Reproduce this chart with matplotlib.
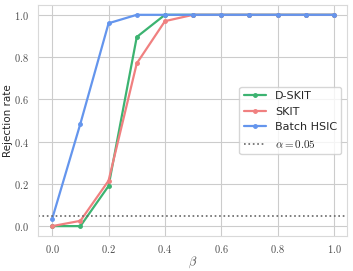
import matplotlib
matplotlib.use("Agg")
import matplotlib.pyplot as plt
import seaborn as sns
import numpy as np

beta = [0.0, 0.1, 0.2, 0.3, 0.4, 0.5, 0.6, 0.7, 0.8, 0.9, 1.0]
dskit = [0.0, 0.0, 0.19, 0.895, 1.0, 1.0, 1.0, 1.0, 1.0, 1.0, 1.0]
skit = [0.0, 0.025, 0.215, 0.77, 0.97, 1.0, 1.0, 1.0, 1.0, 1.0, 1.0]
hsic = [0.035, 0.485, 0.96, 1.0, 1.0, 1.0, 1.0, 1.0, 1.0, 1.0, 1.0]
alpha = 0.05

sns.set_style("whitegrid")
plt.rcParams['font.family'] = ['DejaVu Sans']
plt.rcParams['mathtext.fontset'] = 'cm'
plt.rcParams['axes.formatter.use_mathtext'] = True

fig = plt.figure(figsize=(3.53, 2.71), dpi=100)
ax = fig.add_subplot(111)

ax.plot(beta, dskit, color='mediumseagreen', marker='o', ms=2.5, lw=1.6, label='D-SKIT')
ax.plot(beta, skit, color='lightcoral', marker='o', ms=2.5, lw=1.6, label='SKIT')
ax.plot(beta, hsic, color='cornflowerblue', marker='o', ms=2.5, lw=1.6, label='Batch HSIC')
ax.axhline(alpha, color='0.4', linestyle=':', lw=1.2, label=r'$\alpha = 0.05$')

ax.set_xticks(np.arange(0, 1.01, 0.2))
ax.set_yticks(np.arange(0, 1.01, 0.2))
ax.xaxis.set_major_formatter(matplotlib.ticker.FuncFormatter(lambda v, p: r'$%.1f$' % v))
ax.yaxis.set_major_formatter(matplotlib.ticker.FuncFormatter(lambda v, p: r'$%.1f$' % v))
ax.tick_params(labelsize=7.5, colors='0.3')
ax.tick_params(axis='x', pad=1.5)
ax.tick_params(axis='y', pad=3)
ax.set_xlabel(r'$\beta$', fontsize=9, color='0.3', labelpad=0)
ax.set_ylabel('Rejection rate', fontsize=7.5, labelpad=1)
ax.set_xlim(-0.05, 1.046)
ax.set_ylim(-0.047, 1.047)
for s in ax.spines.values():
    s.set_color('0.85')

ax.legend(loc='center right', fontsize=8)

fig.subplots_adjust(left=0.108, right=0.983, top=0.982, bottom=0.129)
fig.savefig('out.png', dpi=100)
